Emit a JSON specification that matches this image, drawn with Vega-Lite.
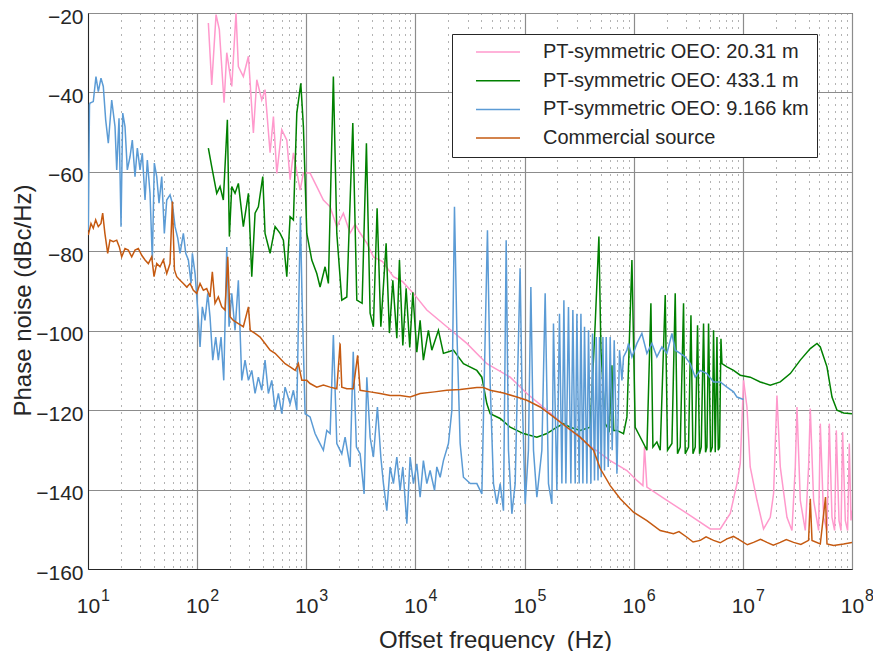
{
  "$schema": "https://vega.github.io/schema/vega-lite/v6.json",
  "width": 764,
  "height": 556,
  "autosize": {"type": "none"},
  "padding": {"left": 88, "top": 13, "right": 21, "bottom": 82},
  "background": "white",
  "config": {
    "font": "Liberation Sans",
    "view": {"stroke": "#262626", "strokeWidth": 1},
    "axis": {"labelColor": "#262626", "titleColor": "#262626"}
  },
  "data": {"values": [
    {"s":"a","f":126.7,"v":-22.5},{"s":"a","f":136,"v":-38.1},{"s":"a","f":149,"v":-20.4},{"s":"a","f":159.7,"v":-24.2},{"s":"a","f":176.5,"v":-42.6},{"s":"a","f":186.8,"v":-30.0},{"s":"a","f":207.6,"v":-38.5},{"s":"a","f":227,"v":-20},{"s":"a","f":238.6,"v":-33.5},{"s":"a","f":265,"v":-36.0},{"s":"a","f":295,"v":-30.9},{"s":"a","f":327.5,"v":-50.2},{"s":"a","f":352,"v":-36.8},{"s":"a","f":391,"v":-41.9},{"s":"a","f":419,"v":-39.3},{"s":"a","f":466,"v":-55.2},{"s":"a","f":500,"v":-46.1},{"s":"a","f":537,"v":-60.4},{"s":"a","f":596,"v":-49.4},{"s":"a","f":663,"v":-52.0},{"s":"a","f":711,"v":-62.0},{"s":"a","f":762,"v":-55.2},{"s":"a","f":878,"v":-64.6},{"s":"a","f":941,"v":-60.3},{"s":"a","f":1083,"v":-60.3},{"s":"a","f":1248,"v":-63.7},{"s":"a","f":1434,"v":-67.1},{"s":"a","f":1653,"v":-68.8},{"s":"a","f":1904,"v":-73.8},{"s":"a","f":2187,"v":-70.4},{"s":"a","f":2520,"v":-75.4},{"s":"a","f":2800,"v":-73.2},{"s":"a","f":3113,"v":-75.4},{"s":"a","f":3600,"v":-78.0},{"s":"a","f":4120,"v":-81.4},{"s":"a","f":5000,"v":-82.6},{"s":"a","f":6285,"v":-86.4},{"s":"a","f":7600,"v":-87.6},{"s":"a","f":9587,"v":-90.6},{"s":"a","f":12720,"v":-94.8},{"s":"a","f":19400,"v":-99.0},{"s":"a","f":29590,"v":-103.2},{"s":"a","f":45130,"v":-108.3},{"s":"a","f":73810,"v":-111.7},{"s":"a","f":104900,"v":-115.8},{"s":"a","f":160100,"v":-120.0},{"s":"a","f":244100,"v":-124.3},{"s":"a","f":372400,"v":-128.4},{"s":"a","f":609000,"v":-132.7},{"s":"a","f":866700,"v":-135.2},{"s":"a","f":1070000,"v":-137.7},{"s":"a","f":1214000,"v":-139.0},{"s":"a","f":1256000,"v":-129.3},{"s":"a","f":1321000,"v":-139.4},{"s":"a","f":2015000,"v":-142.7},{"s":"a","f":3074000,"v":-146.0},{"s":"a","f":5030000,"v":-149.9},{"s":"a","f":6210000,"v":-149.9},{"s":"a","f":7670000,"v":-146.0},{"s":"a","f":8830000,"v":-138.5},{"s":"a","f":9470000,"v":-133.4},{"s":"a","f":10150000,"v":-112.5},{"s":"a","f":10900000,"v":-119.2},{"s":"a","f":11680000,"v":-134.3},{"s":"a","f":13460000,"v":-142.7},{"s":"a","f":15480000,"v":-149.9},{"s":"a","f":17830000,"v":-147.0},{"s":"a","f":19120000,"v":-141.0},{"s":"a","f":20530000,"v":-116.3},{"s":"a","f":22020000,"v":-134.3},{"s":"a","f":25360000,"v":-147.0},{"s":"a","f":28180000,"v":-150.3},{"s":"a","f":30220000,"v":-134.3},{"s":"a","f":31320000,"v":-119.2},{"s":"a","f":33590000,"v":-142.7},{"s":"a","f":37320000,"v":-150.3},{"s":"a","f":40020000,"v":-134.3},{"s":"a","f":41480000,"v":-119.6},{"s":"a","f":44480000,"v":-142.7},{"s":"a","f":49430000,"v":-150.3},{"s":"a","f":51230000,"v":-123.4},{"s":"a","f":54930000,"v":-147.0},{"s":"a","f":58990000,"v":-150.3},{"s":"a","f":61940000,"v":-123.4},{"s":"a","f":65560000,"v":-147.0},{"s":"a","f":69270000,"v":-150.3},{"s":"a","f":71810000,"v":-125.1},{"s":"a","f":76020000,"v":-147.8},{"s":"a","f":79310000,"v":-150.3},{"s":"a","f":82030000,"v":-125.5},{"s":"a","f":86860000,"v":-147.8},{"s":"a","f":91160000,"v":-150.3},{"s":"a","f":94490000,"v":-128.4},{"s":"a","f":97900000,"v":-147.8},{"s":"a","f":100000000,"v":-145.3},

    {"s":"b","f":126.7,"v":-54.0},{"s":"b","f":136,"v":-58.7},{"s":"b","f":151.2,"v":-65.4},{"s":"b","f":162.1,"v":-63.7},{"s":"b","f":173.8,"v":-67.1},{"s":"b","f":189.2,"v":-46.9},{"s":"b","f":197.4,"v":-76.3},{"s":"b","f":207.6,"v":-63.7},{"s":"b","f":222.5,"v":-65.4},{"s":"b","f":238.6,"v":-62.9},{"s":"b","f":265,"v":-73.8},{"s":"b","f":295,"v":-65.4},{"s":"b","f":316.6,"v":-86.4},{"s":"b","f":339.4,"v":-70.4},{"s":"b","f":363.9,"v":-68.8},{"s":"b","f":399.3,"v":-61.2},{"s":"b","f":419,"v":-75.5},{"s":"b","f":466,"v":-80.5},{"s":"b","f":517.8,"v":-73.8},{"s":"b","f":575.4,"v":-75.5},{"s":"b","f":616.8,"v":-77.2},{"s":"b","f":663,"v":-86.4},{"s":"b","f":711,"v":-71.3},{"s":"b","f":762,"v":-72.1},{"s":"b","f":818.6,"v":-45.2},{"s":"b","f":890.7,"v":-37.7},{"s":"b","f":941,"v":-48.6},{"s":"b","f":1011,"v":-75.5},{"s":"b","f":1123,"v":-82.2},{"s":"b","f":1248,"v":-85.6},{"s":"b","f":1338,"v":-89.0},{"s":"b","f":1487,"v":-83.9},{"s":"b","f":1594,"v":-88.1},{"s":"b","f":1771,"v":-36.0},{"s":"b","f":1904,"v":-75.5},{"s":"b","f":2115,"v":-92.3},{"s":"b","f":2351,"v":-91.5},{"s":"b","f":2668,"v":-47.7},{"s":"b","f":2903,"v":-92.3},{"s":"b","f":3247,"v":-93.1},{"s":"b","f":3556,"v":-52.8},{"s":"b","f":3844,"v":-95.6},{"s":"b","f":4120,"v":-99.0},{"s":"b","f":4456,"v":-69.2},{"s":"b","f":4819,"v":-99.0},{"s":"b","f":5389,"v":-78.0},{"s":"b","f":5778,"v":-100.6},{"s":"b","f":6206,"v":-87.3},{"s":"b","f":6755,"v":-101.9},{"s":"b","f":7137,"v":-82.2},{"s":"b","f":7666,"v":-103.7},{"s":"b","f":8220,"v":-89.3},{"s":"b","f":8870,"v":-104.2},{"s":"b","f":9468,"v":-90.3},{"s":"b","f":10300,"v":-105.4},{"s":"b","f":11040,"v":-97.4},{"s":"b","f":11830,"v":-107.4},{"s":"b","f":13150,"v":-99.9},{"s":"b","f":14130,"v":-104.9},{"s":"b","f":16240,"v":-99.9},{"s":"b","f":18050,"v":-105.7},{"s":"b","f":22290,"v":-104.9},{"s":"b","f":27530,"v":-108.3},{"s":"b","f":36540,"v":-110.0},{"s":"b","f":40610,"v":-111.7},{"s":"b","f":45130,"v":-118.4},{"s":"b","f":48390,"v":-120.9},{"s":"b","f":59760,"v":-122.1},{"s":"b","f":73810,"v":-124.3},{"s":"b","f":97700,"v":-125.9},{"s":"b","f":129600,"v":-126.8},{"s":"b","f":160100,"v":-125.9},{"s":"b","f":197700,"v":-124.3},{"s":"b","f":227300,"v":-123.4},{"s":"b","f":261800,"v":-124.3},{"s":"b","f":323400,"v":-125.1},{"s":"b","f":399300,"v":-124.3},{"s":"b","f":443800,"v":-98.2},{"s":"b","f":479800,"v":-76.3},{"s":"b","f":500600,"v":-104.9},{"s":"b","f":548100,"v":-123.4},{"s":"b","f":596300,"v":-125.1},{"s":"b","f":631200,"v":-108.7},{"s":"b","f":655600,"v":-125.1},{"s":"b","f":701700,"v":-125.1},{"s":"b","f":806600,"v":-125.9},{"s":"b","f":866700,"v":-121.7},{"s":"b","f":962900,"v":-82.2},{"s":"b","f":1032000,"v":-124.3},{"s":"b","f":1230000,"v":-128.4},{"s":"b","f":1321000,"v":-130.1},{"s":"b","f":1437000,"v":-93.1},{"s":"b","f":1499000,"v":-129.3},{"s":"b","f":1631000,"v":-128.0},{"s":"b","f":1749000,"v":-130.1},{"s":"b","f":1944000,"v":-91.0},{"s":"b","f":2041000,"v":-130.1},{"s":"b","f":2239000,"v":-128.4},{"s":"b","f":2400000,"v":-90.6},{"s":"b","f":2520000,"v":-131.0},{"s":"b","f":2668000,"v":-129.3},{"s":"b","f":2861000,"v":-93.1},{"s":"b","f":2965000,"v":-131.0},{"s":"b","f":3180000,"v":-129.3},{"s":"b","f":3345000,"v":-96.1},{"s":"b","f":3489000,"v":-131.0},{"s":"b","f":3662000,"v":-129.3},{"s":"b","f":3844000,"v":-98.6},{"s":"b","f":4010000,"v":-131.0},{"s":"b","f":4156000,"v":-129.3},{"s":"b","f":4364000,"v":-98.2},{"s":"b","f":4552000,"v":-130.6},{"s":"b","f":4687000,"v":-129.3},{"s":"b","f":4849000,"v":-98.2},{"s":"b","f":5059000,"v":-130.6},{"s":"b","f":5244000,"v":-129.3},{"s":"b","f":5389000,"v":-99.9},{"s":"b","f":5585000,"v":-130.6},{"s":"b","f":5790000,"v":-101.6},{"s":"b","f":5951000,"v":-130.1},{"s":"b","f":6116000,"v":-129.3},{"s":"b","f":6300000,"v":-102.0},{"s":"b","f":6435000,"v":-108.3},{"s":"b","f":7151000,"v":-109.1},{"s":"b","f":8220000,"v":-110.0},{"s":"b","f":9468000,"v":-111.2},{"s":"b","f":11680000,"v":-111.7},{"s":"b","f":14430000,"v":-112.9},{"s":"b","f":17830000,"v":-113.7},{"s":"b","f":22020000,"v":-112.9},{"s":"b","f":27200000,"v":-110.8},{"s":"b","f":33590000,"v":-107.4},{"s":"b","f":41480000,"v":-104.5},{"s":"b","f":47770000,"v":-103.2},{"s":"b","f":51230000,"v":-104.1},{"s":"b","f":58990000,"v":-109.1},{"s":"b","f":65560000,"v":-116.7},{"s":"b","f":72860000,"v":-120.0},{"s":"b","f":83780000,"v":-120.7},{"s":"b","f":100000000,"v":-120.9},

    {"s":"c","f":10.06,"v":-74.7},{"s":"c","f":10.32,"v":-43.1},{"s":"c","f":10.43,"v":-42.7},{"s":"c","f":11.18,"v":-42.3},{"s":"c","f":11.83,"v":-36.0},{"s":"c","f":12.43,"v":-39.8},{"s":"c","f":13.15,"v":-36.4},{"s":"c","f":13.81,"v":-38.5},{"s":"c","f":14.52,"v":-46.9},{"s":"c","f":15.35,"v":-52.8},{"s":"c","f":16.49,"v":-41.9},{"s":"c","f":17.68,"v":-48.6},{"s":"c","f":18.33,"v":-59.5},{"s":"c","f":19.24,"v":-46.5},{"s":"c","f":20.07,"v":-73.8},{"s":"c","f":20.8,"v":-45.2},{"s":"c","f":21.83,"v":-48.6},{"s":"c","f":22.92,"v":-59.5},{"s":"c","f":24.26,"v":-56.2},{"s":"c","f":25.47,"v":-52.0},{"s":"c","f":26.96,"v":-61.2},{"s":"c","f":28.31,"v":-54.0},{"s":"c","f":29.97,"v":-59.5},{"s":"c","f":31.46,"v":-55.3},{"s":"c","f":33.31,"v":-67.1},{"s":"c","f":34.96,"v":-57.0},{"s":"c","f":37.01,"v":-65.4},{"s":"c","f":38.85,"v":-82.2},{"s":"c","f":40.52,"v":-57.8},{"s":"c","f":42.64,"v":-61.2},{"s":"c","f":44.75,"v":-67.9},{"s":"c","f":47.39,"v":-61.2},{"s":"c","f":50.06,"v":-75.5},{"s":"c","f":52.66,"v":-67.1},{"s":"c","f":56.45,"v":-65.8},{"s":"c","f":59.25,"v":-67.9},{"s":"c","f":62.73,"v":-73.8},{"s":"c","f":66.42,"v":-76.7},{"s":"c","f":69.72,"v":-80.5},{"s":"c","f":74.76,"v":-75.5},{"s":"c","f":78.65,"v":-80.5},{"s":"c","f":83.1,"v":-82.2},{"s":"c","f":87.95,"v":-88.1},{"s":"c","f":90.39,"v":-80.5},{"s":"c","f":95.69,"v":-85.6},{"s":"c","f":101.3,"v":-94.8},{"s":"c","f":106.3,"v":-104.1},{"s":"c","f":111.6,"v":-94.0},{"s":"c","f":118,"v":-97.4},{"s":"c","f":125.1,"v":-90.6},{"s":"c","f":131.2,"v":-96.5},{"s":"c","f":139,"v":-107.4},{"s":"c","f":148,"v":-101.6},{"s":"c","f":156.4,"v":-107.4},{"s":"c","f":165.6,"v":-101.6},{"s":"c","f":175.3,"v":-112.5},{"s":"c","f":186.8,"v":-78.9},{"s":"c","f":196.1,"v":-99.0},{"s":"c","f":207.6,"v":-90.6},{"s":"c","f":222.5,"v":-99.9},{"s":"c","f":238.6,"v":-87.3},{"s":"c","f":256.3,"v":-112.5},{"s":"c","f":274.8,"v":-107.4},{"s":"c","f":295,"v":-112.5},{"s":"c","f":316.6,"v":-110.0},{"s":"c","f":339.4,"v":-115.8},{"s":"c","f":363.9,"v":-111.7},{"s":"c","f":391,"v":-115.0},{"s":"c","f":419,"v":-107.4},{"s":"c","f":449.4,"v":-115.8},{"s":"c","f":482.8,"v":-112.5},{"s":"c","f":517.8,"v":-120.0},{"s":"c","f":555.1,"v":-115.8},{"s":"c","f":596,"v":-120.9},{"s":"c","f":639.3,"v":-114.2},{"s":"c","f":711,"v":-118.4},{"s":"c","f":762,"v":-115.0},{"s":"c","f":818.6,"v":-120.0},{"s":"c","f":854,"v":-92.3},{"s":"c","f":883.3,"v":-71.3},{"s":"c","f":915.5,"v":-92.3},{"s":"c","f":975.3,"v":-120.9},{"s":"c","f":1083,"v":-121.7},{"s":"c","f":1203,"v":-125.9},{"s":"c","f":1290,"v":-127.6},{"s":"c","f":1434,"v":-130.1},{"s":"c","f":1541,"v":-125.1},{"s":"c","f":1653,"v":-125.9},{"s":"c","f":1771,"v":-101.1},{"s":"c","f":1904,"v":-128.4},{"s":"c","f":2115,"v":-131.0},{"s":"c","f":2268,"v":-126.8},{"s":"c","f":2520,"v":-134.3},{"s":"c","f":2693,"v":-105.3},{"s":"c","f":2879,"v":-129.3},{"s":"c","f":3113,"v":-131.0},{"s":"c","f":3387,"v":-141.1},{"s":"c","f":3586,"v":-111.7},{"s":"c","f":3844,"v":-126.8},{"s":"c","f":4120,"v":-131.8},{"s":"c","f":4485,"v":-119.2},{"s":"c","f":4819,"v":-131.8},{"s":"c","f":5093,"v":-138.5},{"s":"c","f":5469,"v":-145.3},{"s":"c","f":5864,"v":-134.3},{"s":"c","f":6285,"v":-138.5},{"s":"c","f":6755,"v":-131.8},{"s":"c","f":7241,"v":-140.2},{"s":"c","f":7666,"v":-134.3},{"s":"c","f":8343,"v":-148.6},{"s":"c","f":8944,"v":-131.8},{"s":"c","f":9587,"v":-138.5},{"s":"c","f":10300,"v":-133.5},{"s":"c","f":11040,"v":-141.9},{"s":"c","f":11830,"v":-132.7},{"s":"c","f":12720,"v":-138.5},{"s":"c","f":13630,"v":-135.2},{"s":"c","f":14960,"v":-140.2},{"s":"c","f":15710,"v":-134.3},{"s":"c","f":16850,"v":-136.9},{"s":"c","f":18050,"v":-132.7},{"s":"c","f":20070,"v":-128.4},{"s":"c","f":21570,"v":-120.0},{"s":"c","f":22790,"v":-68.8},{"s":"c","f":23960,"v":-99.9},{"s":"c","f":25690,"v":-128.4},{"s":"c","f":27530,"v":-136.9},{"s":"c","f":31800,"v":-138.5},{"s":"c","f":36540,"v":-138.5},{"s":"c","f":40610,"v":-141.1},{"s":"c","f":42640,"v":-113.3},{"s":"c","f":45700,"v":-74.7},{"s":"c","f":48390,"v":-113.3},{"s":"c","f":51880,"v":-138.5},{"s":"c","f":55740,"v":-143.6},{"s":"c","f":59760,"v":-138.5},{"s":"c","f":64080,"v":-145.3},{"s":"c","f":67840,"v":-77.2},{"s":"c","f":71210,"v":-130.1},{"s":"c","f":76500,"v":-146.1},{"s":"c","f":82030,"v":-138.5},{"s":"c","f":90960,"v":-84.3},{"s":"c","f":94490,"v":-113.3},{"s":"c","f":101300,"v":-143.6},{"s":"c","f":108500,"v":-130.1},{"s":"c","f":114200,"v":-89.0},{"s":"c","f":120700,"v":-130.1},{"s":"c","f":129600,"v":-141.9},{"s":"c","f":144000,"v":-130.1},{"s":"c","f":154400,"v":-90.6},{"s":"c","f":165600,"v":-138.5},{"s":"c","f":177900,"v":-143.6},{"s":"c","f":184000,"v":-98.2},{"s":"c","f":197700,"v":-140.2},{"s":"c","f":208900,"v":-95.7},{"s":"c","f":219700,"v":-138.5},{"s":"c","f":229200,"v":-92.3},{"s":"c","f":239100,"v":-138.5},{"s":"c","f":252500,"v":-94.0},{"s":"c","f":265600,"v":-138.5},{"s":"c","f":277000,"v":-94.8},{"s":"c","f":291000,"v":-138.5},{"s":"c","f":301600,"v":-95.7},{"s":"c","f":316600,"v":-138.5},{"s":"c","f":328300,"v":-95.7},{"s":"c","f":342300,"v":-138.5},{"s":"c","f":354100,"v":-99.0},{"s":"c","f":372400,"v":-138.5},{"s":"c","f":385200,"v":-99.9},{"s":"c","f":405200,"v":-138.5},{"s":"c","f":419200,"v":-100.7},{"s":"c","f":437300,"v":-137.7},{"s":"c","f":453300,"v":-101.6},{"s":"c","f":471000,"v":-137.7},{"s":"c","f":486000,"v":-101.6},{"s":"c","f":503700,"v":-136.9},{"s":"c","f":522200,"v":-101.6},{"s":"c","f":540000,"v":-135.2},{"s":"c","f":559700,"v":-101.6},{"s":"c","f":583800,"v":-134.3},{"s":"c","f":609000,"v":-101.6},{"s":"c","f":635100,"v":-130.1},{"s":"c","f":662800,"v":-102.4},{"s":"c","f":701700,"v":-136.0},{"s":"c","f":741200,"v":-104.9},{"s":"c","f":779900,"v":-112.5},{"s":"c","f":806600,"v":-106.6},{"s":"c","f":866700,"v":-104.9},{"s":"c","f":896300,"v":-103.2},{"s":"c","f":962900,"v":-106.6},{"s":"c","f":1070000,"v":-103.2},{"s":"c","f":1188000,"v":-100.7},{"s":"c","f":1321000,"v":-105.7},{"s":"c","f":1468000,"v":-103.2},{"s":"c","f":1631000,"v":-106.6},{"s":"c","f":1813000,"v":-104.1},{"s":"c","f":2015000,"v":-105.7},{"s":"c","f":2239000,"v":-100.7},{"s":"c","f":2400000,"v":-104.9},{"s":"c","f":2668000,"v":-105.7},{"s":"c","f":2965000,"v":-106.6},{"s":"c","f":3295000,"v":-108.3},{"s":"c","f":3662000,"v":-111.7},{"s":"c","f":4069000,"v":-110.0},{"s":"c","f":4687000,"v":-110.8},{"s":"c","f":5389000,"v":-112.9},{"s":"c","f":6206000,"v":-112.9},{"s":"c","f":7151000,"v":-114.2},{"s":"c","f":8220000,"v":-115.4},{"s":"c","f":8830000,"v":-116.7},{"s":"c","f":10150000,"v":-117.3},

    {"s":"d","f":10.06,"v":-75.9},{"s":"d","f":10.65,"v":-73.0},{"s":"d","f":11.18,"v":-74.2},{"s":"d","f":11.76,"v":-72.1},{"s":"d","f":12.43,"v":-73.8},{"s":"d","f":13.15,"v":-73.0},{"s":"d","f":13.63,"v":-70.4},{"s":"d","f":14.28,"v":-75.5},{"s":"d","f":15.15,"v":-80.5},{"s":"d","f":15.9,"v":-77.2},{"s":"d","f":17.06,"v":-77.6},{"s":"d","f":18.33,"v":-77.2},{"s":"d","f":19.36,"v":-78.9},{"s":"d","f":20.36,"v":-81.4},{"s":"d","f":21.83,"v":-79.3},{"s":"d","f":23.41,"v":-79.7},{"s":"d","f":25.15,"v":-81.4},{"s":"d","f":26.96,"v":-79.7},{"s":"d","f":28.91,"v":-79.3},{"s":"d","f":31.06,"v":-81.0},{"s":"d","f":33.31,"v":-82.2},{"s":"d","f":35.71,"v":-83.1},{"s":"d","f":38.36,"v":-81.4},{"s":"d","f":40.27,"v":-86.4},{"s":"d","f":42.64,"v":-83.1},{"s":"d","f":45.7,"v":-83.9},{"s":"d","f":49.01,"v":-82.2},{"s":"d","f":52.66,"v":-85.6},{"s":"d","f":56.45,"v":-83.1},{"s":"d","f":59.25,"v":-67.5},{"s":"d","f":61.97,"v":-84.7},{"s":"d","f":65.03,"v":-86.4},{"s":"d","f":69.72,"v":-87.3},{"s":"d","f":74.76,"v":-88.1},{"s":"d","f":80.3,"v":-89.0},{"s":"d","f":86.12,"v":-88.1},{"s":"d","f":92.32,"v":-89.8},{"s":"d","f":99.1,"v":-90.6},{"s":"d","f":106.3,"v":-88.1},{"s":"d","f":114,"v":-89.8},{"s":"d","f":122.4,"v":-89.4},{"s":"d","f":131.2,"v":-91.5},{"s":"d","f":137.8,"v":-85.2},{"s":"d","f":145.8,"v":-93.1},{"s":"d","f":156.4,"v":-91.5},{"s":"d","f":168.1,"v":-94.0},{"s":"d","f":180.1,"v":-94.8},{"s":"d","f":190.8,"v":-81.4},{"s":"d","f":200.3,"v":-96.5},{"s":"d","f":214.7,"v":-97.4},{"s":"d","f":238.6,"v":-98.2},{"s":"d","f":265,"v":-99.0},{"s":"d","f":295,"v":-94.0},{"s":"d","f":306.4,"v":-99.9},{"s":"d","f":339.4,"v":-100.7},{"s":"d","f":377.5,"v":-101.6},{"s":"d","f":419,"v":-103.2},{"s":"d","f":466,"v":-104.9},{"s":"d","f":517.8,"v":-105.7},{"s":"d","f":575.4,"v":-107.0},{"s":"d","f":639.3,"v":-108.3},{"s":"d","f":711,"v":-109.1},{"s":"d","f":792,"v":-110.0},{"s":"d","f":846.3,"v":-108.3},{"s":"d","f":910,"v":-112.5},{"s":"d","f":1011,"v":-112.5},{"s":"d","f":1083,"v":-113.3},{"s":"d","f":1248,"v":-114.2},{"s":"d","f":1434,"v":-113.7},{"s":"d","f":1653,"v":-114.2},{"s":"d","f":1904,"v":-114.6},{"s":"d","f":2041,"v":-103.2},{"s":"d","f":2115,"v":-114.2},{"s":"d","f":2351,"v":-114.6},{"s":"d","f":2693,"v":-114.6},{"s":"d","f":2953,"v":-106.2},{"s":"d","f":3113,"v":-115.0},{"s":"d","f":3844,"v":-115.4},{"s":"d","f":4749,"v":-115.8},{"s":"d","f":5864,"v":-116.3},{"s":"d","f":7241,"v":-116.3},{"s":"d","f":8944,"v":-116.7},{"s":"d","f":11040,"v":-115.8},{"s":"d","f":14960,"v":-115.4},{"s":"d","f":19400,"v":-115.0},{"s":"d","f":25690,"v":-114.8},{"s":"d","f":36540,"v":-114.3},{"s":"d","f":42010,"v":-114.3},{"s":"d","f":48390,"v":-115.0},{"s":"d","f":64080,"v":-115.7},{"s":"d","f":85040,"v":-116.7},{"s":"d","f":104900,"v":-117.5},{"s":"d","f":139000,"v":-119.2},{"s":"d","f":184000,"v":-121.7},{"s":"d","f":244100,"v":-124.3},{"s":"d","f":323400,"v":-126.8},{"s":"d","f":428300,"v":-130.1},{"s":"d","f":493300,"v":-134.7},{"s":"d","f":609000,"v":-139.0},{"s":"d","f":752300,"v":-142.3},{"s":"d","f":995000,"v":-145.7},{"s":"d","f":1321000,"v":-147.8},{"s":"d","f":1749000,"v":-150.3},{"s":"d","f":2315000,"v":-151.1},{"s":"d","f":2600000,"v":-150.6},{"s":"d","f":3074000,"v":-152.0},{"s":"d","f":3500000,"v":-153.2},{"s":"d","f":4069000,"v":-152.8},{"s":"d","f":4600000,"v":-151.9},{"s":"d","f":5389000,"v":-152.8},{"s":"d","f":6200000,"v":-153.4},{"s":"d","f":7151000,"v":-152.4},{"s":"d","f":8200000,"v":-151.8},{"s":"d","f":9468000,"v":-152.8},{"s":"d","f":11000000,"v":-153.9},{"s":"d","f":12530000,"v":-153.3},{"s":"d","f":14500000,"v":-152.5},{"s":"d","f":16630000,"v":-153.3},{"s":"d","f":19000000,"v":-154.0},{"s":"d","f":22020000,"v":-153.3},{"s":"d","f":25000000,"v":-152.6},{"s":"d","f":29160000,"v":-153.3},{"s":"d","f":34000000,"v":-153.8},{"s":"d","f":40000000,"v":-152.8},{"s":"d","f":41480000,"v":-142.3},{"s":"d","f":43010000,"v":-152.8},{"s":"d","f":51230000,"v":-153.7},{"s":"d","f":57200000,"v":-141.9},{"s":"d","f":58990000,"v":-153.7},{"s":"d","f":67840000,"v":-154.1},{"s":"d","f":83780000,"v":-153.7},{"s":"d","f":100000000,"v":-153.3}
  ]},
  "encoding": {
    "y": {
      "field": "v",
      "type": "quantitative",
      "scale": {"domain": [-160, -20], "nice": false, "zero": false},
      "axis": {
        "values": [-160, -140, -120, -100, -80, -60, -40, -20],
        "grid": true,
        "gridColor": "#8c8c8c",
        "gridWidth": 1.2,
        "ticks": false,
        "tickSize": 0,
        "domainColor": "#262626",
        "labelFontSize": 21,
        "labelPadding": 5,
        "labelFlush": false,
        "labelOffset": 4,
        "title": "Phase noise (dBc/Hz)",
        "titleFontSize": 24,
        "titleFontWeight": "normal",
        "titleAngle": -90,
        "titleAlign": "center",
        "titleBaseline": "middle",
        "titleX": -65,
        "titleY": 287
      }
    },
    "color": {
      "field": "s",
      "type": "nominal",
      "scale": {"domain": ["a", "b", "c", "d"], "range": ["#FF99CC", "#008000", "#5B9BD5", "#C55A11"]},
      "legend": {
        "title": null,
        "orient": "none",
        "legendX": 364,
        "legendY": 21,
        "fillColor": "white",
        "strokeColor": "#262626",
        "padding": 8,
        "symbolType": "stroke",
        "symbolSize": 1936,
        "symbolStrokeWidth": 1.5,
        "symbolOffset": 15,
        "labelOffset": 22,
        "labelFontSize": 20,
        "labelLimit": 400,
        "labelColor": "#262626",
        "clipHeight": 20,
        "rowPadding": 8.7,
        "labelExpr": "datum.value == 'a' ? 'PT-symmetric OEO: 20.31 m' : datum.value == 'b' ? 'PT-symmetric OEO: 433.1 m' : datum.value == 'c' ? 'PT-symmetric OEO: 9.166 km' : 'Commercial source'"
      }
    }
  },
  "layer": [
    {
      "transform": [{"filter": "datum.s == 'a' || datum.s == 'b'"}],
      "mark": {"type": "line", "strokeWidth": 1.5, "clip": true},
      "encoding": {
        "x": {
          "field": "f",
          "type": "quantitative",
          "scale": {"type": "log", "domain": [10, 100000000], "nice": false},
          "axis": {
            "orient": "bottom",
            "values": [10,20,30,40,50,60,70,80,90,100,200,300,400,500,600,700,800,900,1000,2000,3000,4000,5000,6000,7000,8000,9000,10000,20000,30000,40000,50000,60000,70000,80000,90000,100000,200000,300000,400000,500000,600000,700000,800000,900000,1000000,2000000,3000000,4000000,5000000,6000000,7000000,8000000,9000000,10000000,20000000,30000000,40000000,50000000,60000000,70000000,80000000,90000000,100000000],
            "labelExpr": "abs(log(datum.value)/LN10 - round(log(datum.value)/LN10)) < 0.001 ? '10' : ''",
            "labelOverlap": false,
            "labelFlush": false,
            "labelFontSize": 21,
            "labelPadding": 26,
            "labelBaseline": "top",
            "ticks": false,
            "tickSize": 0,
            "domainColor": "#262626",
            "grid": true,
            "gridColor": {"condition": {"test": "abs(log(datum.value)/LN10 - round(log(datum.value)/LN10)) < 0.001", "value": "#8c8c8c"}, "value": "#666666"},
            "gridWidth": {"condition": {"test": "abs(log(datum.value)/LN10 - round(log(datum.value)/LN10)) < 0.001", "value": 1.2}, "value": 1},
            "gridDash": {"condition": {"test": "abs(log(datum.value)/LN10 - round(log(datum.value)/LN10)) < 0.001", "value": []}, "value": [1, 6]},
            "title": "Offset frequency\u2002(Hz)",
            "titleFontSize": 24,
            "titleFontWeight": "normal",
            "titleBaseline": "alphabetic",
            "titleAlign": "center",
            "titleX": 407,
            "titleY": 78
          }
        }
      }
    },
    {
      "transform": [{"filter": "datum.s == 'c' || datum.s == 'd'"}],
      "mark": {"type": "line", "strokeWidth": 1.5, "clip": true},
      "encoding": {
        "x": {
          "field": "f",
          "type": "quantitative",
          "scale": {"type": "log", "domain": [10, 100000000], "nice": false},
          "axis": {
            "orient": "bottom",
            "values": [10,100,1000,10000,100000,1000000,10000000,100000000],
            "labelExpr": "'' + round(log(datum.value)/LN10)",
            "labelOverlap": false,
            "labelFlush": false,
            "labelFontSize": 16,
            "labelPadding": 18,
            "labelBaseline": "top",
            "labelOffset": 17,
            "ticks": false,
            "tickSize": 0,
            "domain": false,
            "grid": false,
            "title": null
          }
        }
      }
    }
  ],
  "resolve": {"axis": {"x": "independent"}}
}
